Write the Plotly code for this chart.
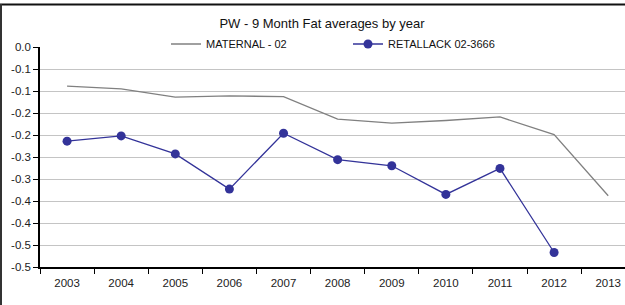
import plotly.graph_objects as go

years = ["2003", "2004", "2005", "2006", "2007", "2008", "2009", "2010", "2011", "2012", "2013"]
maternal = [-0.089, -0.095, -0.114, -0.111, -0.113, -0.164, -0.173, -0.167, -0.159, -0.199, -0.338]
retallack_years = ["2003", "2004", "2005", "2006", "2007", "2008", "2009", "2010", "2011", "2012"]
retallack = [-0.214, -0.202, -0.243, -0.323, -0.196, -0.256, -0.270, -0.335, -0.276, -0.467]

y_tickvals = [0.0, -0.05, -0.1, -0.15, -0.2, -0.25, -0.3, -0.35, -0.4, -0.45, -0.5]
y_ticktext = ["0.0", "-0.1", "-0.1", "-0.2", "-0.2", "-0.3", "-0.3", "-0.4", "-0.4", "-0.5", "-0.5"]

FONT = "Liberation Sans, Arial, sans-serif"

fig = go.Figure()
fig.add_trace(go.Scatter(
    x=years, y=maternal, mode="lines", name="MATERNAL - 02",
    line=dict(color="#808080", width=1.3),
))
fig.add_trace(go.Scatter(
    x=retallack_years, y=retallack, mode="lines+markers", name="RETALLACK 02-3666",
    line=dict(color="#333399", width=1.3),
    marker=dict(color="#333399", size=9, symbol="circle"),
))

L, T, B, W, H = 40, 47, 38, 625, 305
pw = W - L
ph = H - T - B

def px_x(p):
    return (p - L) / pw

def px_y(p):
    return (H - B - p) / ph

fig.update_layout(
    width=W, height=H,
    margin=dict(l=L, r=0, t=T, b=B, pad=0, autoexpand=False),
    paper_bgcolor="white", plot_bgcolor="white",
    font=dict(family=FONT, size=11, color="#222"),
    title=dict(text="PW - 9 Month Fat averages by year", x=322 / W, xanchor="center",
               y=1 - 19 / H, yanchor="top", yref="container", xref="container",
               font=dict(family=FONT, size=13, color="#111")),
    showlegend=True,
    legend=dict(orientation="h", xref="container", yref="container",
                x=166 / W, xanchor="left", y=1 - 44 / H, yanchor="middle",
                bgcolor="white", borderwidth=0, entrywidth=137,
                font=dict(family=FONT, size=11, color="#111"), traceorder="normal"),
    xaxis=dict(type="category", categoryorder="array", categoryarray=years,
               range=[-0.5, 10.31], tickson="boundaries", ticks="outside", ticklen=5,
               tickcolor="#000", showline=True, linecolor="#000", linewidth=1.5,
               showgrid=False, zeroline=False, automargin=False, ticklabelstandoff=4,
               tickfont=dict(family=FONT, size=11.5, color="#222")),
    yaxis=dict(range=[-0.5, 0.0], tickvals=y_tickvals, ticktext=y_ticktext,
               ticks="outside", ticklen=5, tickcolor="#000",
               showline=True, linecolor="#000", linewidth=1.5,
               showgrid=True, gridcolor="#c4c4c4", gridwidth=1, zeroline=False,
               automargin=False,
               tickfont=dict(family=FONT, size=11.5, color="#222")),
)

# white backing behind the legend area (hides the top gridline there, as in the reference)
fig.add_shape(type="rect", xref="paper", yref="paper",
              x0=px_x(138), x1=px_x(530), y0=px_y(58), y1=px_y(31),
              fillcolor="white", line=dict(width=0), layer="above")

# outer chart frame (top and left edges visible in the cropped picture)
fig.add_shape(type="line", xref="paper", yref="paper",
              x0=px_x(0), x1=px_x(W), y0=px_y(4.5), y1=px_y(4.5),
              line=dict(color="#111", width=2))
fig.add_shape(type="line", xref="paper", yref="paper",
              x0=px_x(1), x1=px_x(1), y0=px_y(4), y1=px_y(H),
              line=dict(color="#333", width=2))

fig.write_html("out.html", config={"displayModeBar": False},
               post_script="document.body.style.margin='0';")
